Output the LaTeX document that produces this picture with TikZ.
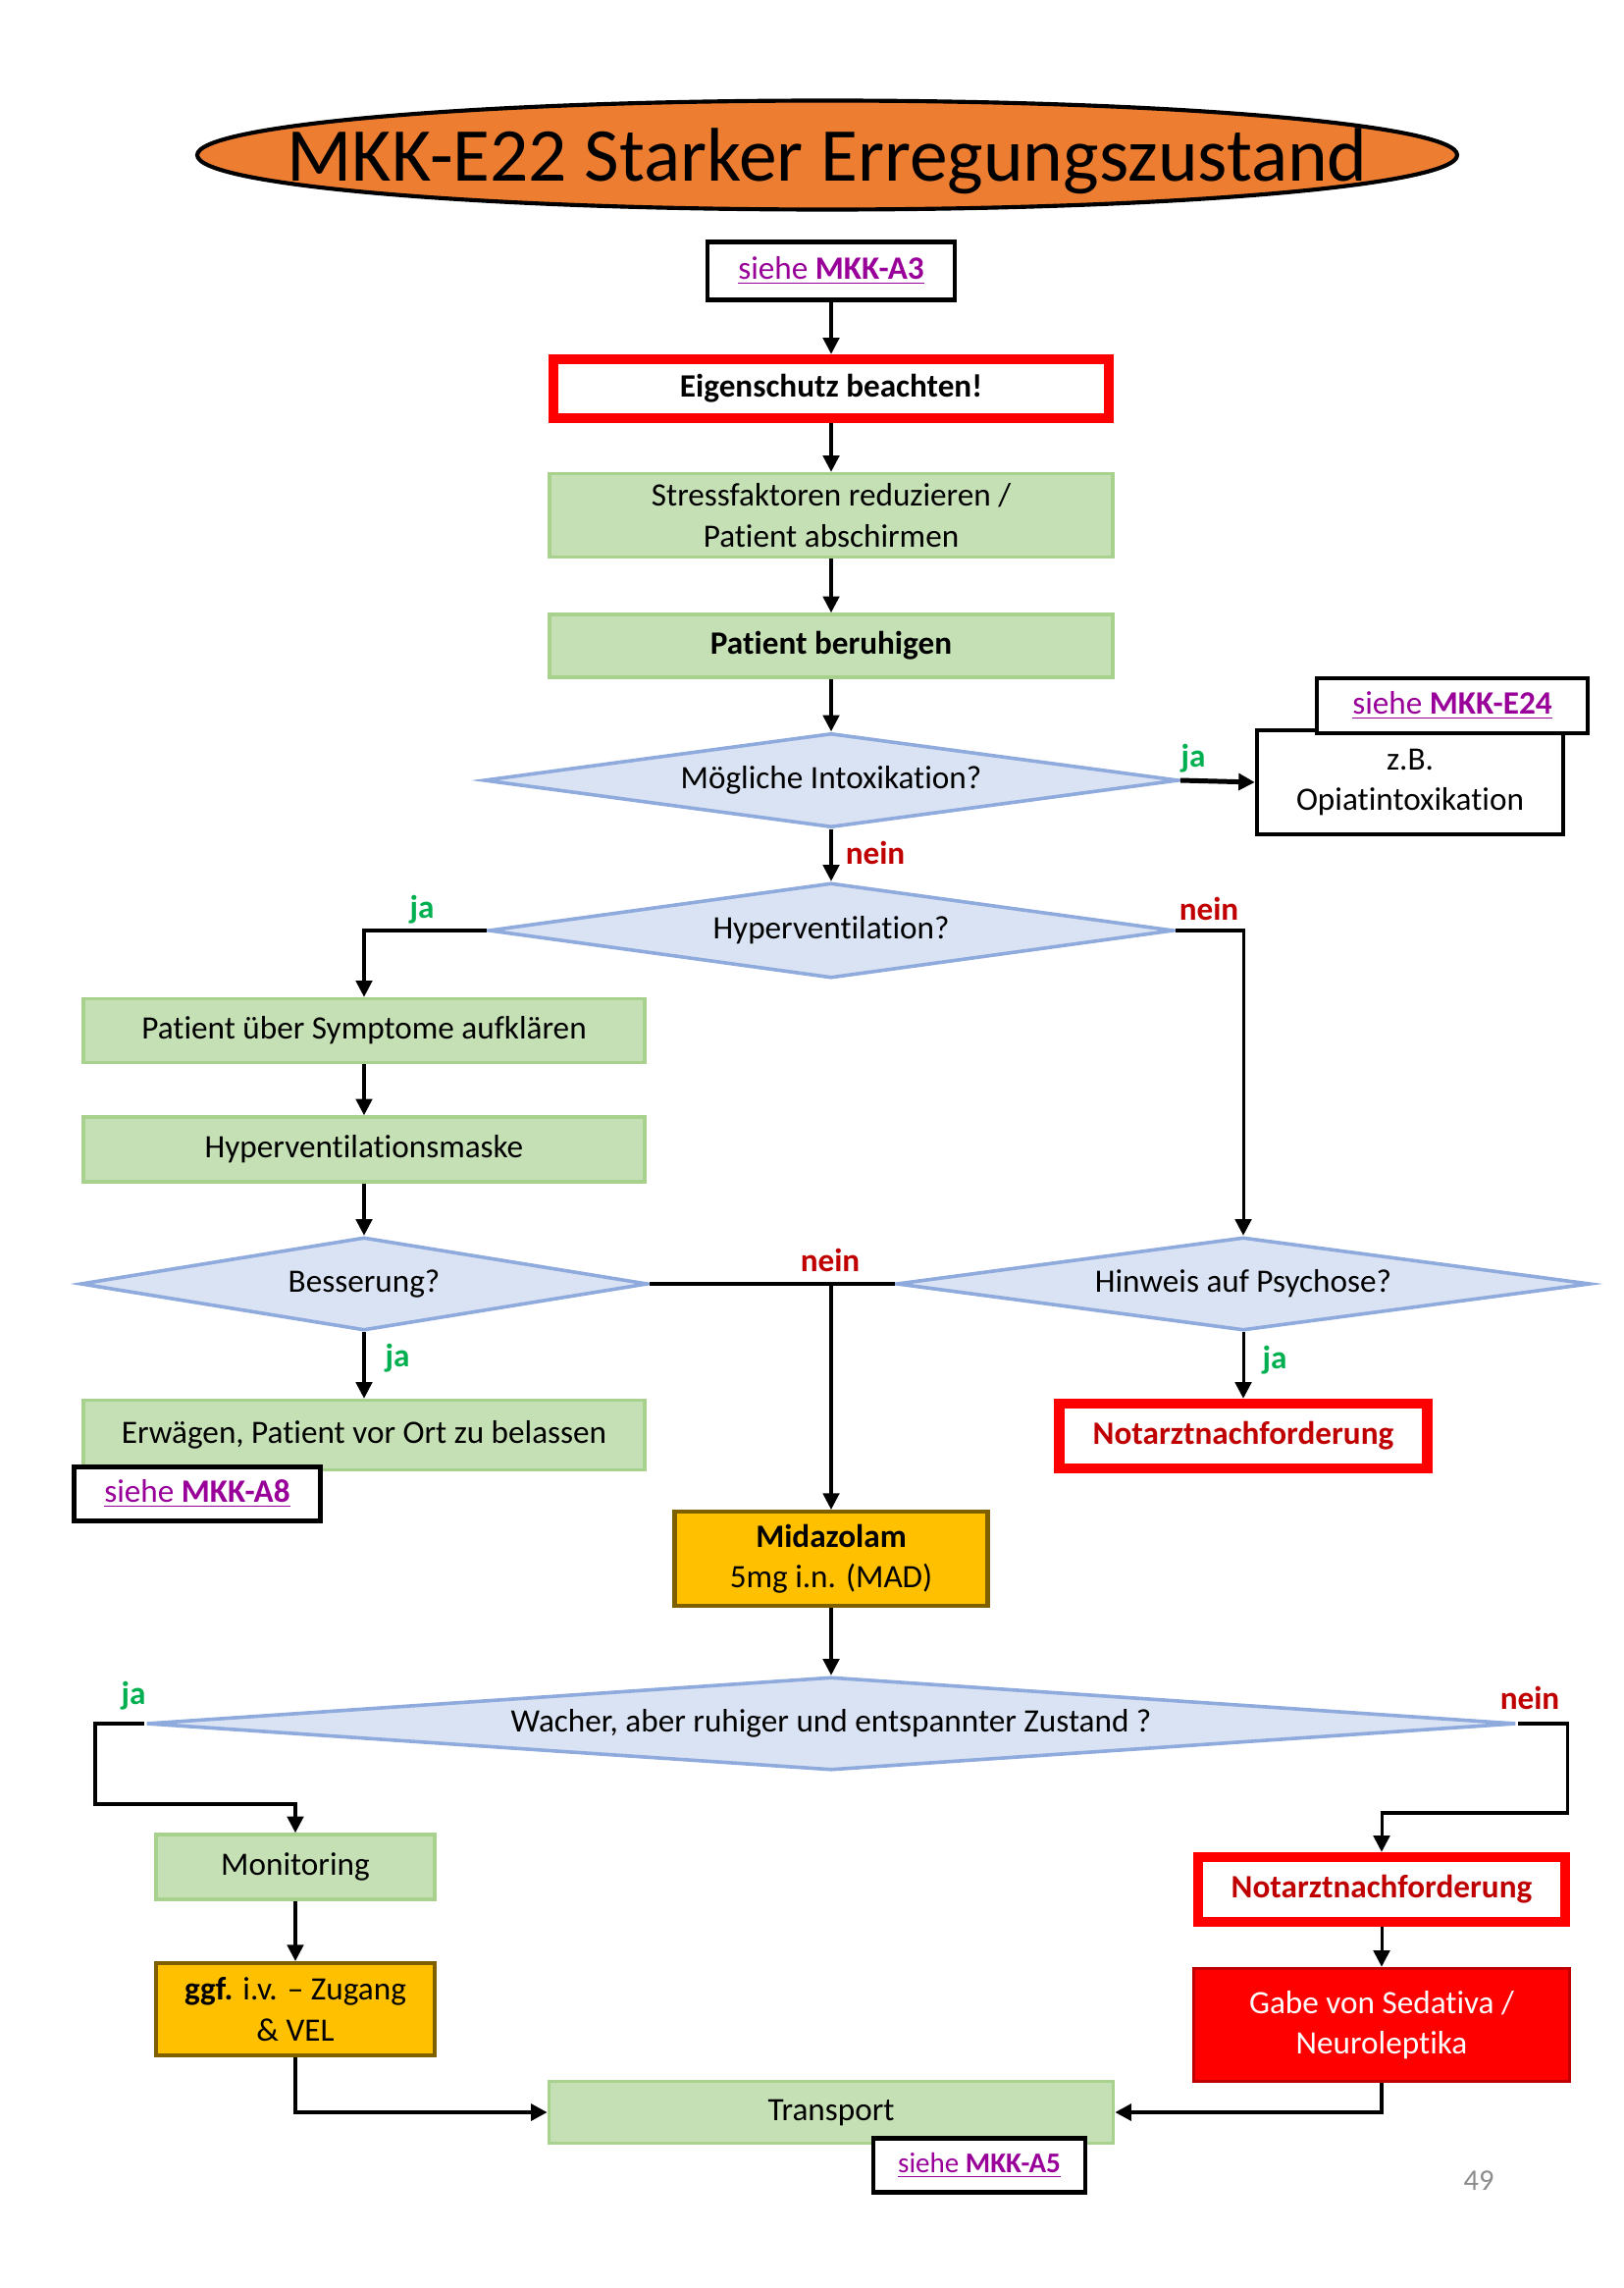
\documentclass[tikz,border=0pt]{standalone}
\usepackage{fontspec}
\setmainfont{Carlito}[Ligatures=CommonOff]
\usetikzlibrary{shapes.geometric,arrows.meta}

\begin{document}
\begin{tikzpicture}[x=0.127mm,y=-0.127mm, line width=1.1pt,
    every node/.style={font=\fontsize{12}{15}\selectfont, inner sep=0pt, align=center},
    sz/.style 2 args={minimum width=#1*0.127mm, minimum height=#2*0.127mm},
    conn/.style={-{Triangle[length=6pt,width=6pt]}, line width=1.1pt},
    plain/.style={line width=1.1pt},
    greenbox/.style={rectangle, draw=greenline, fill=greenfill, line width=1.3pt},
    redbox/.style={rectangle, draw=red, fill=white, line width=3.8pt, text=darkred,
        font=\fontsize{12}{15}\selectfont\bfseries},
    yellowbox/.style={rectangle, draw=yellowline, fill=yellowfill, line width=1.5pt},
    linkbox/.style={rectangle, draw=black, fill=white, line width=1.6pt, text=linkpurple},
    decision/.style={diamond, draw=dialine, fill=diafill, line width=1.3pt},
    jalabel/.style={text=jagreen, font=\fontsize{12}{15}\selectfont\bfseries},
    neinlabel/.style={text=darkred, font=\fontsize{12}{15}\selectfont\bfseries}]
    % Define colors
    \definecolor{titleorange}{RGB}{237, 125, 49}
    \definecolor{greenfill}{RGB}{197, 224, 180}
    \definecolor{greenline}{RGB}{169, 209, 142}
    \definecolor{diafill}{RGB}{218, 227, 243}
    \definecolor{dialine}{RGB}{143, 170, 220}
    \definecolor{yellowfill}{RGB}{255, 192, 0}
    \definecolor{yellowline}{RGB}{127, 96, 0}
    \definecolor{darkred}{RGB}{192, 0, 0}
    \definecolor{jagreen}{RGB}{0, 176, 80}
    \definecolor{linkpurple}{RGB}{153, 0, 153}
    \definecolor{pagegray}{RGB}{140, 140, 140}

    \useasboundingbox (0,0) rectangle (1654,2331);

    % title
    \node[ellipse, draw=black, fill=titleorange, line width=1.5pt, sz={1284}{111},
        text depth=0pt, font=\fontsize{28}{34}\selectfont] (title) at (843,158)
        {\makebox[0pt]{MKK-E22 Starker Erregungszustand}};

    % upper part
    \node[linkbox, sz={252}{59}] (seeA3) at (847,276) {\underline{siehe \textbf{MKK-A3}}};
    \node[redbox, sz={566}{60}, text=black] (eigen) at (847,396) {Eigenschutz beachten!};
    \node[greenbox, sz={574}{85}] (stress) at (847,525) {Stressfaktoren reduzieren /\\Patient abschirmen};
    \node[greenbox, sz={574}{64}, font=\fontsize{12}{15}\selectfont\bfseries] (calm) at (847,658) {Patient beruhigen};
    \node[decision, sz={708}{96}, aspect=7.4] (intox) at (847,795) {Mögliche Intoxikation?};
    \node[linkbox, sz={312}{106}, text=black] (opiat) at (1437,797) {z.B.\\Opiatintoxikation};
    \node[linkbox, sz={276}{56}] (seeE24) at (1480,719) {\underline{siehe \textbf{MKK-E24}}};

    \draw[conn] (seeA3) -- (eigen);
    \draw[conn] (eigen) -- (stress);
    \draw[conn] (stress) -- (calm);
    \draw[conn] (calm) -- (intox);
    \draw[conn, line width=1.8pt] (intox.east) -- (opiat.west);
    \node[jalabel] (jaIntox) at (1216,773) {ja};

    % hyperventilation
    \node[decision, sz={698}{97}, aspect=7.2] (hyper) at (847,948) {Hyperventilation?};
    \draw[conn] (intox.south) -- (hyper.north);
    \node[neinlabel] (neinIntox) at (892,869) {nein};

    \node[greenbox, sz={572}{65}] (inform) at (371,1050) {Patient über Symptome aufklären};
    \node[greenbox, sz={572}{66}] (mask) at (371,1171) {Hyperventilationsmaske};
    \node[decision, sz={578}{95}, aspect=6.1] (better) at (371,1308) {Besserung?};
    \node[greenbox, sz={572}{71}] (stay) at (371,1462) {Erwägen, Patient vor Ort zu belassen};
    \node[linkbox, sz={251}{55}] (seeA8) at (201,1522) {\underline{siehe \textbf{MKK-A8}}};

    \draw[conn] (hyper.west) -| (inform.north);
    \node[jalabel] (jaHyper) at (430,927) {ja};
    \draw[conn] (inform) -- (mask);
    \draw[conn] (mask) -- (better.north);
    \draw[conn] (better.south) -- (stay.north);
    \node[jalabel] (jaBetter) at (405,1384) {ja};

    \node[decision, sz={707}{95}, aspect=7.4] (psych) at (1267,1308) {Hinweis auf Psychose?};
    \node[redbox, sz={375}{66}] (doctorA) at (1267,1463) {Notarztnachforderung};
    \draw[conn] (hyper.east) -| (psych.north);
    \node[neinlabel] (neinHyper) at (1232,926) {nein};
    \draw[conn] (psych.south) -- (doctorA.north);
    \node[jalabel] (jaPsych) at (1299,1386) {ja};

    % midazolam
    \node[yellowbox, sz={319}{96}] (mida) at (847,1588) {\textbf{Midazolam}\\5mg i.n. (MAD)};
    \draw[plain] (better.east) -- (psych.west);
    \draw[conn] (better.east -| mida.north) -- (mida.north);
    \node[neinlabel] (neinMid) at (846,1284) {nein};

    % lower part
    \node[decision, sz={1396}{95}, aspect=14.7] (awake) at (847,1756) {Wacher, aber ruhiger und entspannter Zustand ?};
    \draw[conn] (mida) -- (awake.north);

    \node[greenbox, sz={284}{66}] (monitor) at (301,1902) {Monitoring};
    \node[yellowbox, sz={284}{94}] (access) at (301,2047) {\textbf{ggf.} i.v. – Zugang\\\& VEL};
    \node[redbox, sz={374}{66}] (doctorB) at (1408,1925) {Notarztnachforderung};
    \node[rectangle, draw=darkred, fill=red, line width=1.3pt, sz={383}{115}, text=white] (sedat) at (1408,2063) {Gabe von Sedativa /\\Neuroleptika};
    \node[greenbox, sz={575}{63}] (transport) at (847,2152) {Transport};
    \node[linkbox, sz={216}{55}, font=\fontsize{10.5}{13}\selectfont] (seeA5) at (998,2206) {\underline{siehe \textbf{MKK-A5}}};

    \coordinate (jaBend) at (97,1838);
    \coordinate (neinBend) at (1597,1847);
    \draw[conn] (awake.west) -| (jaBend) -| (monitor.north);
    \node[jalabel] (jaAwake) at (136,1728) {ja};
    \draw[conn] (awake.east) -| (neinBend) -| (doctorB.north);
    \node[neinlabel] (neinAwake) at (1559,1730) {nein};

    \draw[conn] (monitor) -- (access);
    \draw[conn] (doctorB) -- (sedat);
    \draw[conn, line width=1.6pt] (access.south) |- (transport.west);
    \draw[conn, line width=1.6pt] (sedat.south) |- (transport.east);

    \node[text=pagegray, font=\fontsize{11}{13}\selectfont] (pagenum) at (1507,2222) {49};
\end{tikzpicture}
\end{document}
